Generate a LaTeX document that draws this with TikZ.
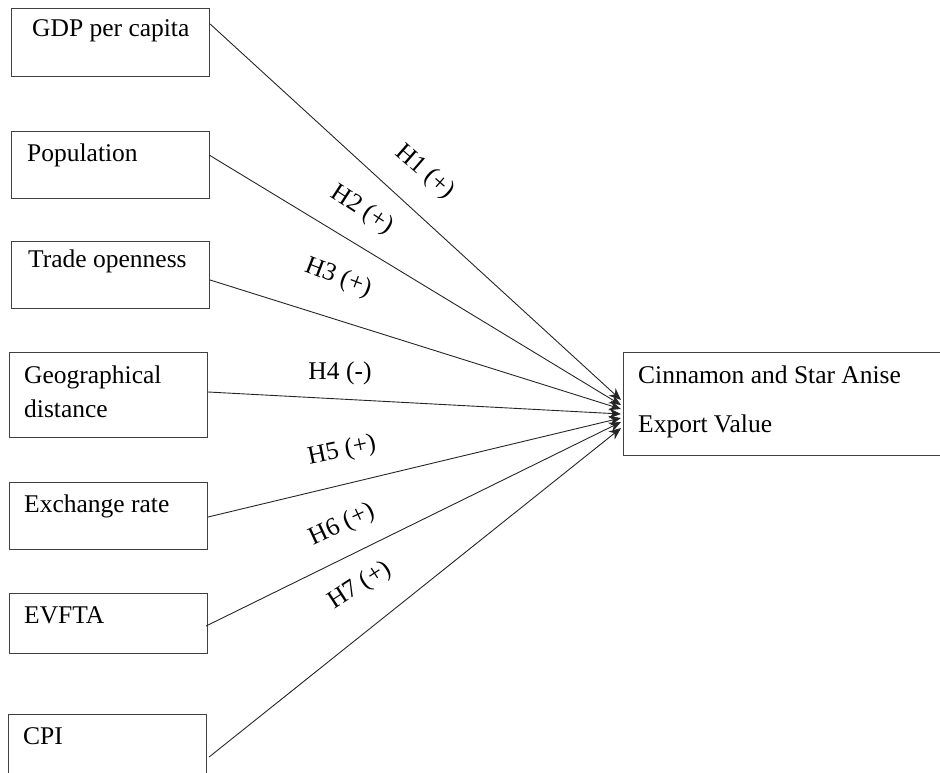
\documentclass[tikz,border=0pt]{standalone}
\usepackage{fontspec}
\setmainfont{Liberation Serif}
\usetikzlibrary{arrows.meta}
\begin{document}
\begin{tikzpicture}[x=1pt,y=-1pt,
  box/.style={draw=black!75,line width=1.1pt,anchor=north west,inner sep=0pt,minimum width=198pt},
  txt/.style={anchor=base west,inner sep=0pt,font=\fontsize{25.5}{30}\selectfont},
  hyp/.style={inner sep=0pt,font=\fontsize{25.5}{30}\selectfont},
  link/.style={draw=black!85,line width=0.9pt,-{Stealth[length=12pt,width=10pt]}}]
\useasboundingbox (0,0) rectangle (940,773);
% boxes
\node[box,minimum height=68pt] (gdp) at (11,8) {};
\node[box,minimum height=67pt] (pop) at (11,131) {};
\node[box,minimum height=67pt] (trade) at (11,241) {};
\node[box,minimum height=85pt] (geo) at (9,352) {};
\node[box,minimum height=67pt] (exch) at (9,482) {};
\node[box,minimum height=60pt] (evfta) at (9,593) {};
\node[box,minimum height=70pt,minimum width=198pt] (cpi) at (8,714) {};
\node[box,minimum height=103pt,minimum width=330pt] (target) at (623,352) {};
% texts
\node[txt] (tgdp) at (32,37) {GDP per capita};
\node[txt] (tpop) at (27,162) {Population};
\node[txt] (ttrade) at (28,267) {Trade openness};
\node[txt] (tgeo1) at (24,383) {Geographical};
\node[txt] (tgeo2) at (24,417) {distance};
\node[txt] (texch) at (24,512) {Exchange rate};
\node[txt] (tevfta) at (24,623) {EVFTA};
\node[txt] (tcpi) at (23,744) {CPI};
\node[txt] (ttar1) at (638,383) {Cinnamon and Star Anise};
\node[txt] (ttar2) at (638,432) {Export Value};
% arrow ends
\coordinate (e1) at (621,400);
\coordinate (e2) at (621,405);
\coordinate (e3) at (621,409);
\coordinate (e4) at (621,414);
\coordinate (e5) at (621,418);
\coordinate (e6) at (621,422);
\coordinate (e7) at (621,428);
% connectors
\draw[link] ([yshift=-16pt]gdp.north east) -- (e1);
\draw[link] ([yshift=-24pt,xshift=-1pt]pop.north east) -- (e2);
\draw[link] ([yshift=-39pt]trade.north east) -- (e3);
\draw[link] ([yshift=-40pt]geo.north east) -- (e4);
\draw[link] ([yshift=-35pt]exch.north east) -- (e5);
\draw[link] ([yshift=-33pt,xshift=-2pt]evfta.north east) -- (e6);
\draw[link] ([yshift=-43pt,xshift=2pt]cpi.north east) -- (e7);
% hypotheses
\node[hyp,rotate=-41] (h1) at (425,172) {H1 (+)};
\node[hyp,rotate=-33] (h2) at (362,210) {H2 (+)};
\node[hyp,rotate=-21] (h3) at (338,278) {H3 (+)};
\node[hyp] (h4) at (340,373) {H4 (-)};
\node[hyp,rotate=12] (h5) at (342,451) {H5 (+)};
\node[hyp,rotate=25] (h6) at (342,525) {H6 (+)};
\node[hyp,rotate=33] (h7) at (360,586) {H7 (+)};
\end{tikzpicture}
\end{document}
